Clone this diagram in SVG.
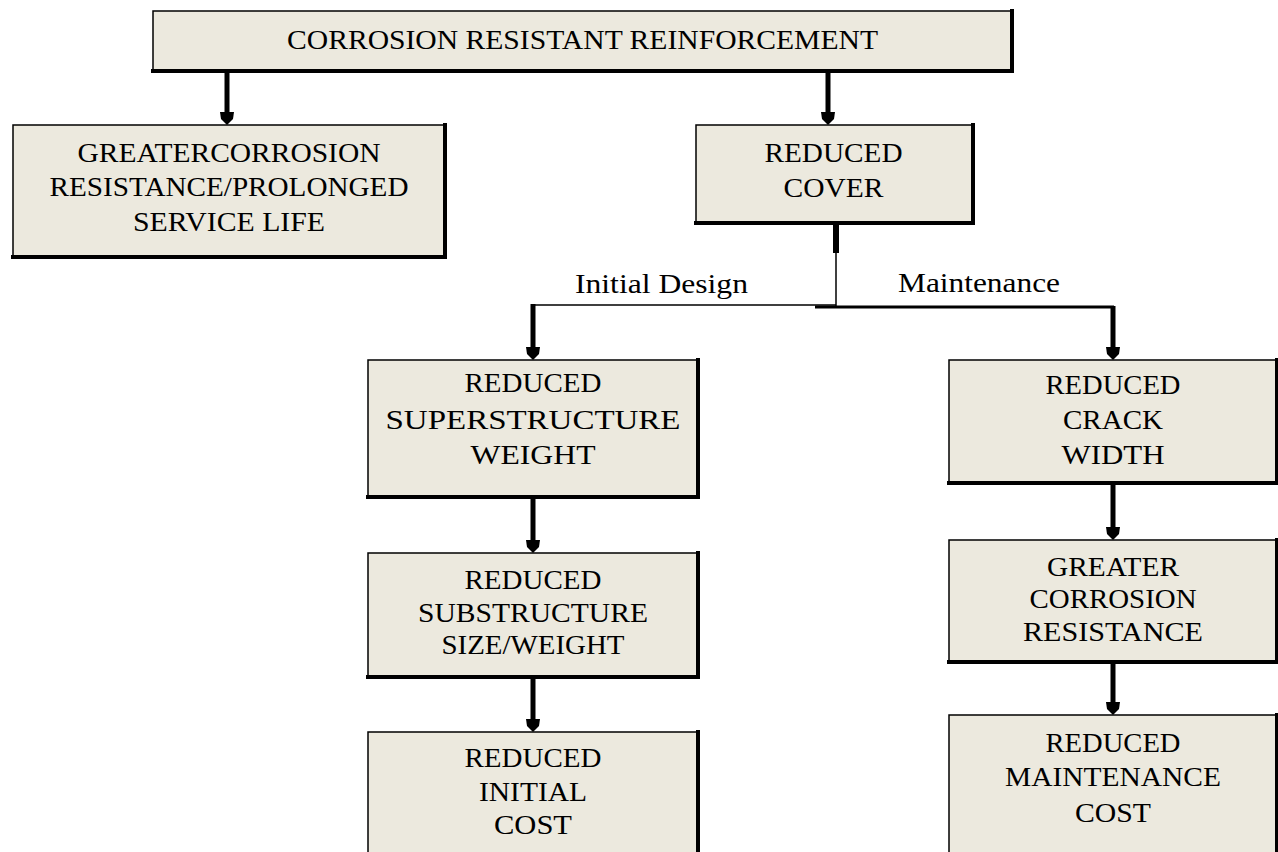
<svg xmlns="http://www.w3.org/2000/svg" width="1278" height="852" viewBox="0 0 1278 852">
<style>
.box{fill:#ECE9DE;stroke:#000;stroke-width:1.5}
.sh{fill:none;stroke:#000;stroke-width:4;stroke-linecap:square}
.t{font-family:"Liberation Serif","Times New Roman",serif;font-size:28px;fill:#000;text-anchor:middle}
.lbl{font-family:"Liberation Serif","Times New Roman",serif;font-size:27px;fill:#000;text-anchor:middle}
.arr{stroke:#000;stroke-width:5;fill:none}
.thin{stroke:#000;stroke-width:1.5;fill:none}
</style>
<defs>
<marker id="ah" markerUnits="userSpaceOnUse" viewBox="-6 -8 15 16" refX="0" refY="0" markerWidth="15" markerHeight="16" orient="auto">
<path d="M8,0 L2,-6 L-5,-7 L-5,7 L2,6 Z" fill="#000"/>
</marker>
</defs>
<rect width="1278" height="852" fill="#fff"/>
<g id="connectors">
<line class="arr" x1="227" y1="71" x2="227" y2="117" marker-end="url(#ah)"/>
<line class="arr" x1="828" y1="71" x2="828" y2="117" marker-end="url(#ah)"/>
<line x1="836" y1="223" x2="836" y2="253" stroke="#000" stroke-width="6"/>
<line class="thin" x1="836" y1="253" x2="836" y2="307"/>
<polyline class="thin" points="533,306 533,305 836,305"/>
<line x1="815" y1="307" x2="1114" y2="307" stroke="#000" stroke-width="3"/>
<line class="arr" x1="533" y1="304" x2="533" y2="352" marker-end="url(#ah)"/>
<line class="arr" x1="1113" y1="306" x2="1113" y2="352" marker-end="url(#ah)"/>
<line class="arr" x1="533" y1="497" x2="533" y2="545" marker-end="url(#ah)"/>
<line class="arr" x1="533" y1="677" x2="533" y2="724" marker-end="url(#ah)"/>
<line class="arr" x1="1113" y1="483" x2="1113" y2="532" marker-end="url(#ah)"/>
<line class="arr" x1="1113" y1="662" x2="1113" y2="707" marker-end="url(#ah)"/>
<text class="lbl" x="661.5" y="293" textLength="173" lengthAdjust="spacingAndGlyphs">Initial Design</text>
<text class="lbl" x="979" y="292" textLength="162" lengthAdjust="spacingAndGlyphs">Maintenance</text>
</g>
<g id="n-top">
<rect class="box" x="153" y="11" width="859" height="60"/>
<path class="sh" d="M1012,11 V71 H153"/>
<text class="t" x="582.5" y="49" textLength="591" lengthAdjust="spacingAndGlyphs">CORROSION RESISTANT REINFORCEMENT</text>
</g>
<g id="n-greater-service">
<rect class="box" x="13" y="125" width="432" height="132"/>
<path class="sh" d="M445,125 V257 H13"/>
<text class="t" x="229" y="162" textLength="303" lengthAdjust="spacingAndGlyphs">GREATERCORROSION</text>
<text class="t" x="229" y="196" textLength="359" lengthAdjust="spacingAndGlyphs">RESISTANCE/PROLONGED</text>
<text class="t" x="229" y="231" textLength="192" lengthAdjust="spacingAndGlyphs">SERVICE LIFE</text>
</g>
<g id="n-cover">
<rect class="box" x="696" y="125" width="277" height="98"/>
<path class="sh" d="M973,125 V223 H696"/>
<text class="t" x="833.5" y="162" textLength="138" lengthAdjust="spacingAndGlyphs">REDUCED</text>
<text class="t" x="833.5" y="197" textLength="100" lengthAdjust="spacingAndGlyphs">COVER</text>
</g>
<g id="n-super">
<rect class="box" x="368" y="360" width="330" height="137"/>
<path class="sh" d="M698,360 V497 H368"/>
<text class="t" x="533" y="392" textLength="137" lengthAdjust="spacingAndGlyphs">REDUCED</text>
<text class="t" x="533" y="429" textLength="295" lengthAdjust="spacingAndGlyphs">SUPERSTRUCTURE</text>
<text class="t" x="533" y="464" textLength="125" lengthAdjust="spacingAndGlyphs">WEIGHT</text>
</g>
<g id="n-sub">
<rect class="box" x="368" y="553" width="330" height="124"/>
<path class="sh" d="M698,553 V677 H368"/>
<text class="t" x="533" y="589" textLength="137" lengthAdjust="spacingAndGlyphs">REDUCED</text>
<text class="t" x="533" y="622" textLength="230" lengthAdjust="spacingAndGlyphs">SUBSTRUCTURE</text>
<text class="t" x="533" y="654" textLength="183" lengthAdjust="spacingAndGlyphs">SIZE/WEIGHT</text>
</g>
<g id="n-initial">
<rect class="box" x="368" y="732" width="330" height="130"/>
<path class="sh" d="M698,732 V862"/>
<text class="t" x="533" y="767" textLength="137" lengthAdjust="spacingAndGlyphs">REDUCED</text>
<text class="t" x="533" y="801" textLength="108" lengthAdjust="spacingAndGlyphs">INITIAL</text>
<text class="t" x="533" y="834" textLength="78" lengthAdjust="spacingAndGlyphs">COST</text>
</g>
<g id="n-crack">
<rect class="box" x="949" y="360" width="328" height="123"/>
<path class="sh" d="M1277,360 V483 H949"/>
<text class="t" x="1113" y="394" textLength="135" lengthAdjust="spacingAndGlyphs">REDUCED</text>
<text class="t" x="1113" y="429" textLength="100" lengthAdjust="spacingAndGlyphs">CRACK</text>
<text class="t" x="1113" y="464" textLength="103" lengthAdjust="spacingAndGlyphs">WIDTH</text>
</g>
<g id="n-greater">
<rect class="box" x="949" y="540" width="328" height="122"/>
<path class="sh" d="M1277,540 V662 H949"/>
<text class="t" x="1113" y="576" textLength="132" lengthAdjust="spacingAndGlyphs">GREATER</text>
<text class="t" x="1113" y="608" textLength="167" lengthAdjust="spacingAndGlyphs">CORROSION</text>
<text class="t" x="1113" y="641" textLength="180" lengthAdjust="spacingAndGlyphs">RESISTANCE</text>
</g>
<g id="n-maint">
<rect class="box" x="949" y="715" width="328" height="147"/>
<path class="sh" d="M1277,715 V862"/>
<text class="t" x="1113" y="752" textLength="135" lengthAdjust="spacingAndGlyphs">REDUCED</text>
<text class="t" x="1113" y="786" textLength="216" lengthAdjust="spacingAndGlyphs">MAINTENANCE</text>
<text class="t" x="1113" y="822" textLength="76" lengthAdjust="spacingAndGlyphs">COST</text>
</g>
</svg>
